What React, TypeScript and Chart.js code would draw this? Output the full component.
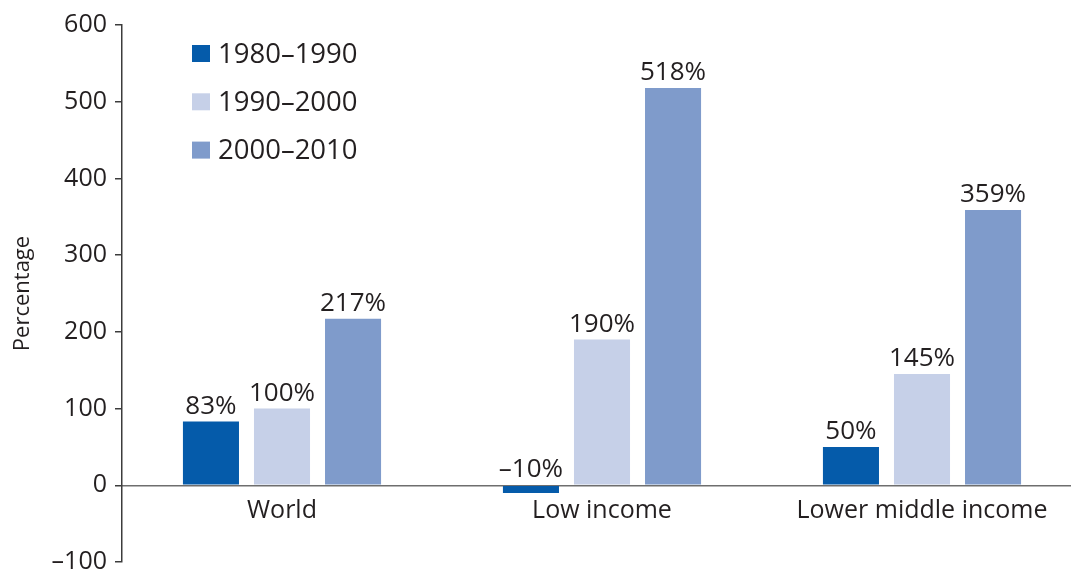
import React, { useEffect, useRef } from "react";
import { Chart, registerables } from "chart.js";

Chart.register(...registerables);

const categories = ["World", "Low income", "Lower middle income"];
const seriesLabels = ["1980\u20131990", "1990\u20132000", "2000\u20132010"];
const values1980s = [83, -10, 50];
const values1990s = [100, 190, 145];
const values2000s = [217, 518, 359];
const seriesColors = ["#055BAA", "#C6D0E8", "#7F9BCB"];
const yMin = -100;
const yMax = 600;
const yStep = 100;

const FONT = "'Open Sans', 'Liberation Sans', sans-serif";
const TEXT = "#231F20";

const fmt = (v: number) => (v < 0 ? "\u2013" + Math.abs(v) : String(v));

const labelPlugin = {
  id: "barLabels",
  afterDatasetsDraw(chart: any) {
    const ctx = chart.ctx;
    const zeroY = chart.scales.y.getPixelForValue(0);
    ctx.save();
    ctx.font = `26px ${FONT}`;
    ctx.fillStyle = TEXT;
    ctx.textAlign = "center";
    ctx.textBaseline = "alphabetic";
    chart.data.datasets.forEach((ds: any, di: number) => {
      const meta = chart.getDatasetMeta(di);
      meta.data.forEach((bar: any, i: number) => {
        const v = ds.data[i].y;
        const top = v >= 0 ? bar.y : zeroY;
        ctx.fillText(fmt(v) + "%", bar.x, top - 8);
      });
    });
    ctx.restore();
  },
};

const legendPlugin = {
  id: "customLegend",
  afterDraw(chart: any) {
    const ctx = chart.ctx;
    ctx.save();
    ctx.font = `27.5px ${FONT}`;
    ctx.textAlign = "left";
    ctx.textBaseline = "alphabetic";
    chart.data.datasets.forEach((ds: any, i: number) => {
      const cy = 53.5 + i * 48.3;
      ctx.fillStyle = ds.backgroundColor;
      ctx.fillRect(192, cy - 8.5, 18, 17);
      ctx.fillStyle = TEXT;
      ctx.fillText(ds.label, 218, cy + 9);
    });
    ctx.restore();
  },
};

export default function App() {
  const ref = useRef<HTMLCanvasElement>(null);

  useEffect(() => {
    if (!ref.current) return;
    const series = [values1980s, values1990s, values2000s];
    const chart = new Chart(ref.current, {
      type: "bar",
      data: {
        datasets: series.map((vals, si) => ({
          label: seriesLabels[si],
          data: categories.map((_, i) => ({ x: i, y: vals[i] })),
          backgroundColor: seriesColors[si],
          borderWidth: 0,
          categoryPercentage: 0.666,
          barPercentage: 0.789,
        })),
      },
      options: {
        animation: false,
        responsive: false,
        maintainAspectRatio: false,
        layout: { padding: { top: 25, bottom: 9, left: 0, right: 0 } },
        plugins: {
          legend: { display: false },
          tooltip: { enabled: false },
        },
        scales: {
          x: {
            type: "linear",
            offset: false,
            position: { y: 0 } as any,
            min: -0.5,
            max: (1071 - 122) / 320 - 0.5,
            afterBuildTicks: (axis: any) => {
              axis.ticks = categories.map((_, i) => ({ value: i }));
            },
            afterFit: (scale: any) => {
              scale.paddingLeft = 0;
              scale.paddingRight = 0;
            },
            grid: { display: false, drawTicks: false, offset: false },
            border: { display: true, color: "#6E6E6E", width: 1.5 },
            ticks: {
              autoSkip: false,
              maxRotation: 0,
              padding: 11,
              color: TEXT,
              font: { family: FONT, size: 25 },
              callback: (v: any) => categories[Number(v)] ?? "",
            },
          },
          y: {
            type: "linear",
            min: yMin,
            max: yMax,
            afterFit: (scale: any) => {
              scale.width = 122;
              scale.paddingTop = 0;
              scale.paddingBottom = 0;
            },
            grid: {
              drawOnChartArea: false,
              drawTicks: true,
              tickLength: 7,
              tickColor: "#3C3C3C",
              lineWidth: 1.5,
            },
            border: { display: true, color: "#3C3C3C", width: 1.5 },
            ticks: {
              stepSize: yStep,
              padding: 8,
              color: TEXT,
              font: { family: FONT, size: 25 },
              callback: (v: any) => fmt(Number(v)),
            },
            title: {
              display: true,
              text: "Percentage",
              color: TEXT,
              font: { family: FONT, size: 22 },
              padding: { top: 10, bottom: 0 },
            },
          },
        },
      },
      plugins: [labelPlugin, legendPlugin],
    } as any);
    return () => chart.destroy();
  }, []);

  return (
    <div style={{ position: "fixed", left: 0, top: 0, width: 1071, height: 571, background: "#fff" }}>
      <canvas ref={ref} width={1071} height={571} />
    </div>
  );
}
